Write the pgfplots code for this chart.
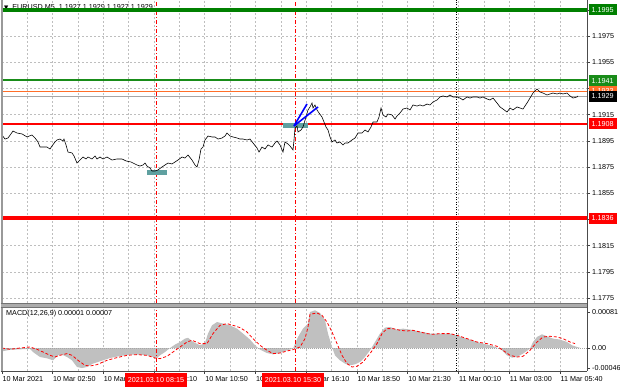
\documentclass[border=0pt]{standalone}
\usepackage{pgfplots}
\pgfplotsset{compat=1.18}
\usepackage{pgfplotstable}
\usepackage{fontspec}
\setmainfont{Liberation Sans}
\newfontfamily\dejavu{DejaVu Sans}
\newcommand\lf{\fontsize{7.2}{8}\selectfont}
\definecolor{dgreen}{RGB}{0,128,0}
\definecolor{mgreen}{RGB}{25,140,25}
\definecolor{orng}{RGB}{255,110,40}
\definecolor{tealbox}{RGB}{95,160,160}
\definecolor{gridc}{RGB}{190,190,190}
\definecolor{silv}{RGB}{192,192,192}

\pgfplotstableread{
x p
2 1.18995
5 1.18964
8 1.18972
13 1.19025
17 1.19010
22 1.19003
27 1.18980
32 1.18995
35 1.18972
38 1.18942
40 1.18903
43 1.18903
47 1.18903
50 1.18888
52 1.18911
55 1.18942
57 1.18957
60 1.18964
63 1.18949
64 1.18964
66 1.18919
68 1.18865
72 1.18858
74 1.18835
77 1.18781
80 1.18804
83 1.18827
86 1.18812
88 1.18827
92 1.18812
95 1.18835
97 1.18812
100 1.18827
103 1.18812
107 1.18827
112 1.18804
117 1.18812
122 1.18812
126 1.18797
131 1.18789
133 1.18781
137 1.18766
140 1.18758
143 1.18766
145 1.18781
147 1.18758
150 1.18743
152 1.18720
155 1.18720
158 1.18728
162 1.18751
165 1.18766
168 1.18781
172 1.18774
175 1.18789
178 1.18804
182 1.18827
185 1.18819
188 1.18842
192 1.18804
195 1.18766
197 1.18751
199 1.18804
201 1.18888
203 1.18903
205 1.18957
208 1.18987
212 1.18980
215 1.18980
218 1.18964
222 1.18972
225 1.18987
227 1.19010
230 1.18987
233 1.18980
237 1.18972
240 1.18964
243 1.18964
247 1.18957
250 1.18964
253 1.18934
257 1.18896
259 1.18865
262 1.18903
265 1.18888
268 1.18919
272 1.18903
275 1.18934
277 1.18949
280 1.18919
283 1.18865
285 1.18942
288 1.18926
290 1.18911
293 1.18881
294 1.18957
295 1.19048
297 1.19064
298 1.19018
301 1.19033
303 1.19056
306 1.19132
308 1.19186
310 1.19209
312 1.19239
313 1.19201
315 1.19224
317 1.19186
319 1.19163
322 1.19132
324 1.19094
326 1.19056
328 1.19033
330 1.18980
332 1.18942
335 1.18957
337 1.18934
340 1.18942
343 1.18919
345 1.18934
348 1.18934
352 1.18957
355 1.18972
358 1.19010
362 1.19010
365 1.19033
368 1.19018
371 1.19056
373 1.19094
377 1.19094
379 1.19132
381 1.19201
383 1.19148
386 1.19132
388 1.19155
392 1.19148
395 1.19117
397 1.19140
400 1.19163
403 1.19193
407 1.19201
410 1.19186
413 1.19224
417 1.19216
420 1.19224
423 1.19216
427 1.19231
430 1.19224
433 1.19247
437 1.19262
440 1.19285
443 1.19293
447 1.19285
450 1.19300
453 1.19285
457 1.19285
460 1.19277
463 1.19262
467 1.19285
470 1.19277
473 1.19285
477 1.19285
480 1.19277
483 1.19285
487 1.19270
490 1.19262
493 1.19277
497 1.19239
500 1.19209
503 1.19193
507 1.19170
510 1.19201
513 1.19186
517 1.19209
520 1.19201
523 1.19193
527 1.19239
530 1.19277
533 1.19315
537 1.19346
540 1.19323
543 1.19315
547 1.19300
550 1.19308
553 1.19315
557 1.19308
560 1.19315
563 1.19308
567 1.19315
570 1.19293
573 1.19277
577 1.19285
578 1.19293
}\price

\pgfplotstableread{
x m
2 0
2 -0.000075
10 -0.000041
20 -0.00003
30 -0.000018
33 -0.000091
40 -0.000204
47 -0.000234
53 -0.000279
58 -0.000166
62 -0.00015
67 -0.000204
72 -0.000279
77 -0.000431
82 -0.000454
87 -0.000431
93 -0.000354
100 -0.000302
110 -0.000227
120 -0.000182
130 -0.00015
140 -0.00015
147 -0.000166
153 -0.000204
157 -0.000227
160 -0.000166
165 -0.000091
170 0
175 0.000077
180 0.000136
185 0.000213
188 0.000232
193 0.000141
200 0.000061
205 0.000114
208 0.000327
212 0.000515
217 0.00059
223 0.000554
230 0.000515
237 0.00044
243 0.000327
250 0.000191
255 0.000061
260 -0.000036
267 -0.000114
273 -0.000143
280 -0.000114
287 -0.000052
293 -0.000014
298 0.00025
303 0.00044
308 0.000554
310 0.000817
315 0.000856
320 0.000795
325 0.000629
328 0.000327
332 0.000023
335 -0.000166
340 -0.000279
345 -0.000354
350 -0.000393
355 -0.00037
360 -0.000318
365 -0.000204
370 -0.000052
375 0.000136
380 0.000327
385 0.000463
390 0.000477
397 0.000418
403 0.00044
410 0.000418
417 0.000386
423 0.000363
430 0.000327
437 0.000327
443 0.000327
450 0.000327
457 0.000288
463 0.000236
470 0.000191
477 0.000136
483 0.0001
490 0.000061
497 0.000009
502 -0.000052
507 -0.000166
512 -0.000218
517 -0.000204
523 -0.000127
530 -0.000014
533 0.000136
537 0.00025
542 0.000311
547 0.000266
553 0.000213
560 0.000191
567 0.000136
572 0.000061
577 0.000023
580 0.000005
580 0
}\macd

\pgfplotstableread{
x s
2 0
10 -0.00003
20 0
30 0.000023
37 -0.00003
43 -0.000091
50 -0.000166
55 -0.000204
60 -0.000166
67 -0.000127
72 -0.000166
78 -0.000279
85 -0.000393
90 -0.000409
97 -0.000377
107 -0.000279
117 -0.000218
127 -0.000166
137 -0.00015
147 -0.000166
155 -0.000227
160 -0.000241
167 -0.000188
173 -0.000091
180 0.000023
187 0.000136
192 0.000175
200 0.0001
207 0.0001
213 0.000327
220 0.000515
227 0.000554
233 0.000515
240 0.000463
247 0.000363
253 0.000213
260 0.000061
267 -0.000052
273 -0.000127
280 -0.000114
287 -0.000068
293 -0.000036
300 0.000023
305 0.000213
308 0.000477
310 0.000765
317 0.000795
322 0.000742
327 0.00059
332 0.000363
337 0.0001
342 -0.000166
347 -0.000354
352 -0.000431
357 -0.000415
363 -0.000318
370 -0.000127
377 0.0001
382 0.000327
387 0.00044
393 0.00044
400 0.000402
407 0.000386
413 0.000402
420 0.000363
427 0.000327
433 0.000311
440 0.000327
450 0.000327
457 0.000288
467 0.000213
477 0.000136
487 0.0001
497 0.000039
503 -0.000052
510 -0.000166
517 -0.000204
523 -0.000188
530 -0.000052
537 0.000136
543 0.00025
550 0.000266
557 0.00025
563 0.000213
570 0.000136
575 0.0001
}\signal

\pgfplotsset{
  mtgrid/.style={gridc, dash pattern=on 2pt off 2pt, line width=0.6pt},
  every tick label/.append style={font=\lf},
}
\tikzset{
  pbox/.style={anchor=west, font=\lf, text=white, inner xsep=2pt, inner ysep=0pt,
    minimum height=11pt, minimum width=28pt, xshift=1.5pt},
  tbox/.style={anchor=north, font=\lf, text=white, fill=red, inner xsep=3pt, inner ysep=0pt,
    minimum height=14pt, yshift=-2pt},
  reddash/.style={red, line width=0.8pt, dash pattern=on 4pt off 2pt on 1pt off 2pt},
  daysep/.style={black, line width=0.7pt, dash pattern=on 1pt off 1.5pt},
}

\begin{document}
\begin{tikzpicture}[x=1pt,y=1pt]
\path[use as bounding box, fill=white] (0,0) rectangle (620,388);

% title (partly covered by the 1.1995 line, as in the reference)
\node[anchor=west, font=\lf, inner sep=0pt] at (4,380.5)
  {{\dejavu\fontsize{5.5}{6}\selectfont ▼}\ \ EURUSD,M5\ \ 1.1927 1.1929 1.1927 1.1929};

% ---------------- main price panel ----------------
\begin{axis}[
  at={(2pt,85pt)}, anchor=south west,
  width=585pt, height=303pt, scale only axis,
  xmin=2, xmax=587, ymin=1.17713, ymax=1.20025,
  clip=false,
  axis line style={draw=none},
  scaled y ticks=false, scaled x ticks=false,
  xtick={2,52.4,103.1,153.9,204.7,255.4,306.2,357.0,407.7,458.5,509.2,560.0},
  minor xtick={27.0,77.8,128.5,179.3,230.0,280.8,331.6,382.3,433.1,483.9,534.6},
  xticklabels={}, xtick style={draw=none},
  minor tick length=0pt,
  xmajorgrids, xminorgrids, ymajorgrids,
  major grid style={mtgrid}, minor grid style={mtgrid},
  ytick={1.1775,1.1795,1.1815,1.1835,1.1855,1.1875,1.1895,1.1915,1.1935,1.1955,1.1975,1.1995},
  yticklabels={1.1775,1.1795,1.1815,1.1835,1.1855,1.1875,1.1895,1.1915,1.1935,1.1955,1.1975,1.1995},
  ytick pos=right, yticklabel pos=right,
  tick align=outside, major tick length=3pt,
  ytick style={black!75, line width=0.5pt},
  yticklabel style={anchor=west, inner sep=0pt, xshift=2pt},
]
% vertical markers
\addplot[reddash] coordinates {(156,1.17713) (156,1.20025)};
\addplot[reddash] coordinates {(295,1.17713) (295,1.20025)};
\addplot[daysep] coordinates {(456.7,1.17713) (456.7,1.20025)};
% horizontal levels
\addplot[dgreen, line width=4pt] coordinates {(2,1.1995) (587,1.1995)};
\addplot[mgreen, line width=2pt] coordinates {(2,1.19415) (587,1.19415)};
\addplot[orng, line width=1pt] coordinates {(2,1.1933) (587,1.1933)};
\addplot[gray!70, line width=0.7pt] coordinates {(2,1.1929) (587,1.1929)};
\addplot[red, line width=2.5pt] coordinates {(2,1.1908) (587,1.1908)};
\addplot[red, line width=3.5pt] coordinates {(2,1.1836) (587,1.1836)};
% teal markers
\addplot[fill=tealbox, draw=none] coordinates {(147,1.18728) (167,1.18728) (167,1.18690) (147,1.18690)};
\addplot[fill=tealbox, draw=none] coordinates {(283,1.19083) (308,1.19083) (308,1.19048) (283,1.19048)};
% price
\addplot[black, line width=0.6pt] table[x=x,y=p] {\price};
% blue lines
\addplot[blue, line width=1.6pt] coordinates {(294,1.19064) (307,1.19232)};
\addplot[blue, line width=1.6pt] coordinates {(294,1.19064) (318,1.19209)};
\coordinate (L1995) at (587,1.1995);
\coordinate (L1941) at (587,1.1941);
\coordinate (L1933) at (587,1.1933);
\coordinate (L1929) at (587,1.1929);
\coordinate (L1908) at (587,1.1908);
\coordinate (L1836) at (587,1.1836);
\end{axis}

% ---------------- MACD panel ----------------
\begin{axis}[
  at={(2pt,17pt)}, anchor=south west,
  width=585pt, height=64pt, scale only axis,
  xmin=2, xmax=587, ymin=-0.000522, ymax=0.000931,
  clip=false,
  axis line style={draw=none},
  scaled y ticks=false, scaled x ticks=false,
  xtick={2,52.4,103.1,153.9,204.7,255.4,306.2,357.0,407.7,458.5,509.2,560.0},
  xticklabels={10 Mar 2021,10 Mar 02:50,10 Mar 05:30,10 Mar 08:10,10 Mar 10:50,10 Mar 13:30,10 Mar 16:10,10 Mar 18:50,10 Mar 21:30,11 Mar 00:10,11 Mar 03:00,11 Mar 05:40},
  minor xtick={27.0,77.8,128.5,179.3,230.0,280.8,331.6,382.3,433.1,483.9,534.6},
  minor tick length=0pt,
  xmajorgrids, xminorgrids,
  major grid style={mtgrid}, minor grid style={mtgrid},
  xtick pos=left, ytick pos=right, yticklabel pos=right,
  tick align=outside, major tick length=3pt,
  tick style={black!75, line width=0.5pt},
  xticklabel style={anchor=north west, inner sep=0pt, yshift=-2.5pt, xshift=0.5pt},
  ytick={-0.00046,0,0.00081},
  yticklabels={-0.00046,0.00,0.00081},
  yticklabel style={anchor=west, inner sep=0pt, xshift=2pt},
]
\addplot[fill=silv, draw=none] table[x=x,y=m] {\macd};
\addplot[gray!70, line width=0.6pt, dash pattern=on 1pt off 1pt] coordinates {(2,0) (587,0)};
\addplot[red, line width=0.8pt, dash pattern=on 3pt off 2pt] table[x=x,y=s] {\signal};
\addplot[reddash] coordinates {(156,-0.000522) (156,0.000931)};
\addplot[reddash] coordinates {(295,-0.000522) (295,0.000931)};
\addplot[daysep] coordinates {(456.7,-0.000522) (456.7,0.000931)};
\coordinate (T1) at (156,-0.000522);
\coordinate (T2) at (293,-0.000522);
\end{axis}

% frames
\draw[gray!80, line width=2pt] (1.5,17) -- (1.5,388);
\draw[black!70, line width=0.8pt] (587,17) -- (587,388);
\fill[gray!65] (0.5,81) rectangle (587.4,84.5);
\draw[black!55, line width=0.5pt] (0.5,84.5) -- (587.4,84.5);
\draw[black!55, line width=0.5pt] (0.5,81) -- (587.4,81);
\draw[black!70, line width=0.8pt] (0.5,17) -- (587.4,17);

% MACD caption
\node[anchor=west, font=\lf, inner sep=0pt] at (6,74.5) {MACD(12,26,9) 0.00001 0.00007};

% price boxes
\node[pbox, fill=orng] at (L1933) {1.1933};
\node[pbox, fill=black] at (L1929) {1.1929};
\node[pbox, fill=dgreen] at (L1995) {1.1995};
\node[pbox, fill=mgreen] at (L1941) {1.1941};
\node[pbox, fill=red] at (L1908) {1.1908};
\node[pbox, fill=red] at (L1836) {1.1836};

% time boxes
\node[tbox] at (T1) {2021.03.10 08:15};
\node[tbox] at (T2) {2021.03.10 15:30};
\end{tikzpicture}
\end{document}
